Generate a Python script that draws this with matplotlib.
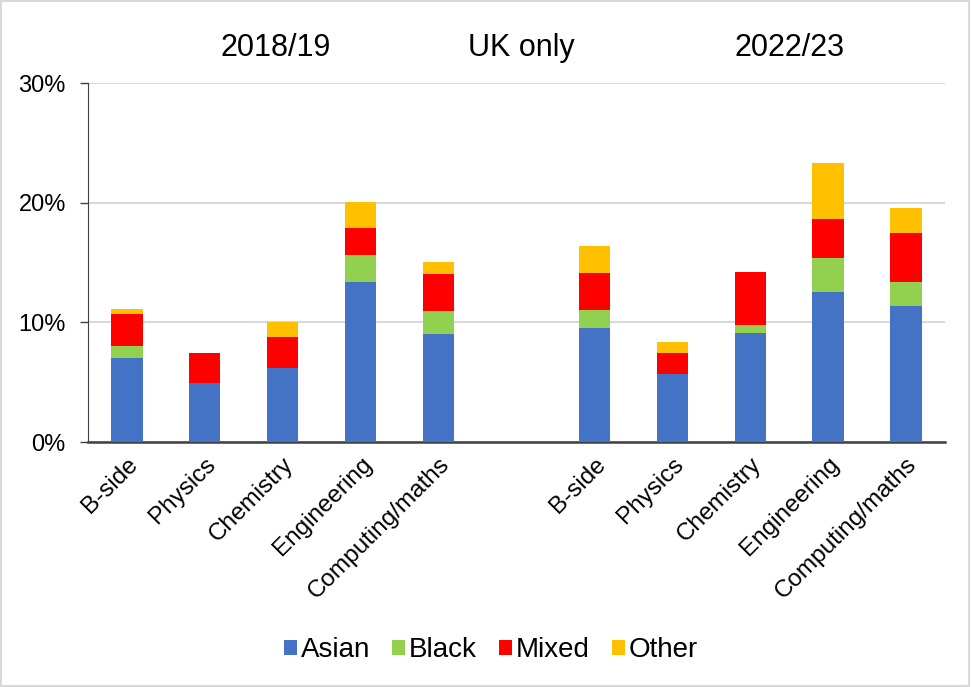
import numpy as np
import matplotlib.pyplot as plt
from matplotlib.patches import Rectangle

plt.rcParams['font.family'] = ['Liberation Sans', 'DejaVu Sans']

subjects = ["B-side", "Physics", "Chemistry", "Engineering", "Computing/maths"]
periods = ["2018/19", "2022/23"]

# percentages, 2018/19 subjects then 2022/23 subjects
asian = [7.0, 4.95, 6.2, 13.4, 9.0, 9.5, 5.7, 9.1, 12.55, 11.4]
black = [1.05, 0.0, 0.0, 2.25, 1.95, 1.5, 0.0, 0.7, 2.85, 1.95]
mixed = [2.65, 2.5, 2.55, 2.25, 3.1, 3.15, 1.7, 4.4, 3.25, 4.15]
other = [0.45, 0.0, 1.25, 2.2, 1.0, 2.25, 1.0, 0.0, 4.65, 2.05]

series = [("Asian", asian, "#4472C4"),
          ("Black", black, "#92D050"),
          ("Mixed", mixed, "#FF0000"),
          ("Other", other, "#FFC000")]

# leave an empty slot between the two periods
x = np.array([0, 1, 2, 3, 4, 6, 7, 8, 9, 10])
labels = subjects + subjects

fig = plt.figure(figsize=(9.71, 6.87), dpi=100)
ax = fig.add_axes([0.0906, 0.3566, 0.8825, 0.5224])

bottom = np.zeros(len(x))
for name, vals, color in series:
    vals = np.array(vals)
    ax.bar(x, vals, width=0.4, bottom=bottom, color=color, label=name, zorder=3)
    bottom += vals

ax.set_xlim(-0.5, 10.5)
ax.set_ylim(0, 30)
ax.set_yticks([0, 10, 20, 30])
ax.set_yticklabels(["0%", "10%", "20%", "30%"], fontsize=17)
ax.yaxis.grid(True, color="#d9d9d9", linewidth=1.5, zorder=0)

ax.set_xticks(x)
ax.set_xticklabels(labels, rotation=45, ha="right", rotation_mode="anchor", fontsize=17.5)
ax.tick_params(axis="x", length=0, pad=8)
ax.tick_params(axis="y", length=6, width=1, color="#404040", pad=10)

for side in ["top", "right"]:
    ax.spines[side].set_visible(False)
ax.spines["left"].set_color("#404040")
ax.spines["bottom"].set_color("#404040")
ax.spines["bottom"].set_linewidth(1.8)

fig.text(276 / 971, 1 - 48 / 687, periods[0], ha="center", va="center", fontsize=22)
fig.text(521 / 971, 1 - 48 / 687, "UK only", ha="center", va="center", fontsize=22)
fig.text(790 / 971, 1 - 48 / 687, periods[1], ha="center", va="center", fontsize=22)

fig.legend(loc="center", bbox_to_anchor=(491 / 971, 1 - 650 / 687), ncol=4, frameon=False,
           fontsize=20, handlelength=0.45, handleheight=0.45, handletextpad=0.15,
           columnspacing=0.8)

# thin grey frame round the whole figure
fig.patches.append(Rectangle((0.001, 0.001), 0.997, 0.997, transform=fig.transFigure,
                             fill=False, edgecolor="#d9d9d9", linewidth=1.5))

fig.savefig("out.png", dpi=100)
